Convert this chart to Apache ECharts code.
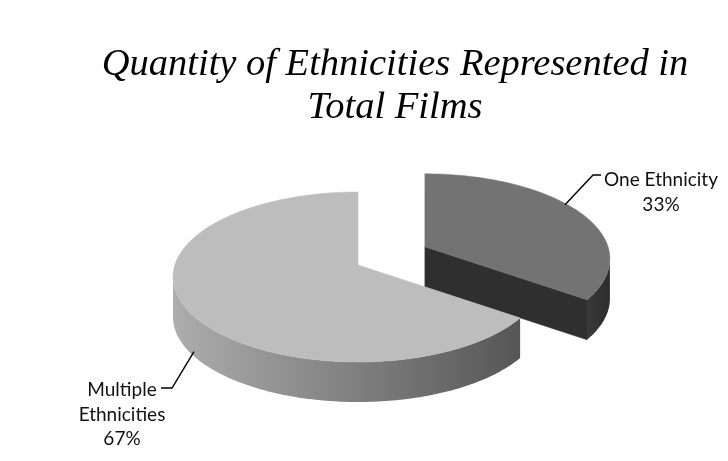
<!DOCTYPE html>
<html><head><meta charset="utf-8">
<script src="https://cdn.jsdelivr.net/npm/echarts@6/dist/echarts.min.js"></script>
<style>html,body{margin:0;padding:0;background:#fff}#c{width:728px;height:461px}</style>
</head><body><div id="c"></div>
<script>
// ---- data ----
const categories = ['One Ethnicity', 'Multiple Ethnicities'];
const values = [33, 67];
const labelText = ['One Ethnicity', 'Multiple\nEthnicities'];
const explodeFrac = [0.42, 0];
const titleText = 'Quantity of Ethnicities Represented in\nTotal Films';

// ---- styles / layout ----
const topColors = ['#737373', '#bdbdbd'];
const radialColors = ['#2f2f2f', '#6a6a6a'];
const arcSideColors = [
  ['#3a3a3a', '#2c2c2c'],
  ['#adadad', '#565656']
];
const L = {cx: 358, cy: 277, rx: 185, ry: 85, depth: 40, lift: 12};
const labelLayout = [
  {r: 0.88, dz: -16, elbow: [593, 175], end: [601, 175], tx: 661, ty: 180, align: 'center'},
  {r: 1.03, dz: 30, elbow: [172, 388], end: [161, 388], tx: 122, ty: 390, align: 'center'}
];
const FONT = 'Lato, "Open Sans", sans-serif';

const total = values.reduce((a, b) => a + b, 0);

function P(theta, r, ox, oy, dz) {
  return [L.cx + ox + r * L.rx * Math.sin(theta), L.cy + oy - r * L.ry * Math.cos(theta) + dz];
}
function arcPts(a, b, ox, oy, dz) {
  const n = Math.max(2, Math.ceil(Math.abs(b - a) / 0.02));
  const pts = [];
  for (let k = 0; k <= n; k++) pts.push(P(a + (b - a) * k / n, 1, ox, oy, dz));
  return pts;
}

function renderItem(params, api) {
  const i = params.dataIndex;
  let before = 0;
  for (let k = 0; k < i; k++) before += values[k];
  const v = api.value(0);
  const a0 = before / total * Math.PI * 2;
  const a1 = (before + v) / total * Math.PI * 2;
  const mid = (a0 + a1) / 2;
  const ex = explodeFrac[i];
  const ox = ex * L.rx * Math.sin(mid);
  const oy = -ex * L.ry * Math.cos(mid);
  const vtx = [L.cx + ox, L.cy + oy - L.lift];
  const vtxB = [vtx[0], vtx[1] + L.depth];
  const children = [];

  const faces = [];
  if (Math.sin(a0) < -1e-6) faces.push(a0);
  if (Math.sin(a1) > 1e-6) faces.push(a1);
  faces.forEach(a => {
    const p = P(a, 1, ox, oy, 0), pb = P(a, 1, ox, oy, L.depth);
    children.push({type: 'polygon', shape: {points: [vtx, p, pb, vtxB]},
      style: {fill: radialColors[i], stroke: radialColors[i], lineWidth: 0.5}});
  });

  const s0 = Math.max(a0, Math.PI / 2), s1 = Math.min(a1, Math.PI * 1.5);
  if (s1 > s0) {
    const top = arcPts(s0, s1, ox, oy, 0);
    const bot = arcPts(s0, s1, ox, oy, L.depth).reverse();
    children.push({type: 'polygon', shape: {points: top.concat(bot)},
      style: {fill: {type: 'linear', x: 0, y: 0, x2: 1, y2: 0,
        colorStops: [{offset: 0, color: arcSideColors[i][0]}, {offset: 1, color: arcSideColors[i][1]}]}}});
  }

  children.push({type: 'polygon', shape: {points: [vtx].concat(arcPts(a0, a1, ox, oy, 0))},
    style: {fill: topColors[i], stroke: topColors[i], lineWidth: 0.5}});

  const lay = labelLayout[i];
  const start = P(mid, lay.r, ox, oy, lay.dz);
  children.push({type: 'polyline', shape: {points: [start, lay.elbow, lay.end]},
    style: {stroke: '#000', lineWidth: 1.4, fill: null}});
  const pct = Math.round(v / total * 100) + '%';
  children.push({type: 'text', style: {text: labelText[i] + '\n' + pct, x: lay.tx, y: lay.ty - 12,
    fill: '#111', fontSize: 19, fontFamily: FONT, align: lay.align, verticalAlign: 'top', lineHeight: 24.5}});

  return {type: 'group', children};
}

const chart = echarts.init(document.getElementById('c'), null, {renderer: 'canvas'});
chart.setOption({
  backgroundColor: '#ffffff',
  animation: false,
  title: {
    text: titleText, left: 390, top: 38, textAlign: 'center',
    textStyle: {fontFamily: '"Liberation Serif", "DejaVu Serif", serif', fontStyle: 'italic',
      fontWeight: 'normal', fontSize: 38.5, lineHeight: 43, color: '#000'}
  },
  series: [{
    type: 'custom', coordinateSystem: 'none', renderItem,
    data: categories.map((c, k) => ({name: c, value: [values[k]]}))
  }]
});
</script></body></html>
